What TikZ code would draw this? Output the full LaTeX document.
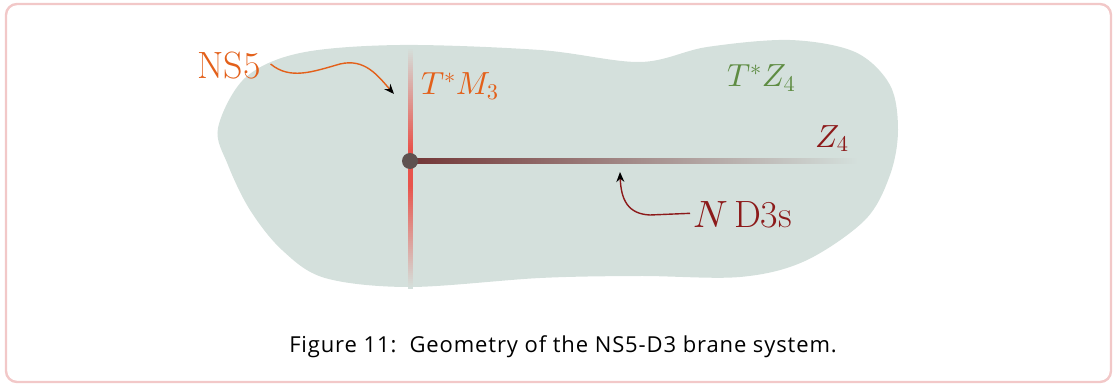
\documentclass[tikz,border=0pt]{standalone}
\DeclareFontShape{OML}{cmm}{m}{it}{<-> cmmi10}{}
\DeclareFontShape{OMS}{cmsy}{m}{n}{<-> cmsy10}{}
\DeclareFontShape{OT1}{cmr}{m}{n}{<-> cmr10}{}
\usepackage{fontspec}
\newfontfamily\capfont[LetterSpace=4]{Open Sans}
\usetikzlibrary{arrows.meta}
\definecolor{framepink}{HTML}{F2C8C8}
\definecolor{blob}{HTML}{D4E0DC}
\definecolor{nsorange}{HTML}{E3601A}
\definecolor{zgreen}{HTML}{5E8C42}
\definecolor{dred}{HTML}{8C1A1A}
\definecolor{brane}{HTML}{E8544C}
\definecolor{dthree}{HTML}{723636}
\definecolor{dotgray}{HTML}{5E5250}
\tikzset{
  lbl/.style={inner sep=0pt, outer sep=0pt},
  pointer/.style={line width=1.4pt, -{Stealth[black, length=10pt, width=8pt]}},
}
\begin{document}
\begin{tikzpicture}[x=1pt,y=-1pt]
\useasboundingbox (0,0) rectangle (1116,385);
% frame
\draw[framepink, line width=2.4pt, rounded corners=11pt] (6,4) rectangle (1111,382);
% blob
\fill[blob] plot[smooth cycle, tension=0.55] coordinates {
 (218,128) (245,78) (300,53) (400,45) (540,50) (640,62) (707,47) (790,40)
 (855,52) (890,85) (898,130) (890,175) (865,220) (805,261) (740,277)
 (640,276) (540,278) (410,287) (325,278) (282,250) (250,210) (228,165)};
% vertical brane (NS5), fading towards both ends
\foreach \i in {0,...,120}{
  \pgfmathsetmacro{\t}{\i/120}
  \pgfmathsetmacro{\p}{min(100,118*(1-abs(2*\t-1)))}
  \fill[brane!\p!blob] (408,{47+2*\i}) rectangle (412.5,{49.2+2*\i});
}
% horizontal brane (D3)
\shade[left color=dthree, right color=blob] (410,158.5) rectangle (858,163.5);
% intersection
\node[circle, fill=dotgray, minimum size=16pt, inner sep=0pt] (dot) at (410,161) {};
% labels
\node[lbl, anchor=base, text=nsorange, font=\fontsize{38}{40}\selectfont] (ns5) at (229,79) {NS5};
\node[lbl, anchor=base west, text=nsorange, font=\fontsize{32}{34}\selectfont] (tm3) at (421,95) {$T^*M_3$};
\node[lbl, anchor=base west, text=zgreen, font=\fontsize{32}{34}\selectfont] (tz4) at (727,87) {$T^*Z_4$};
\node[lbl, anchor=base west, text=dred, font=\fontsize{32}{34}\selectfont] (z4) at (815,147) {$Z_4$};
\node[lbl, anchor=base west, text=dred, font=\fontsize{38}{40}\selectfont] (nd3) at (693,227) {$N$\,D3s};
\coordinate (ns5tip) at (394,94);
\coordinate (d3tip) at (620,172);
% pointers
\draw[pointer, nsorange] (ns5.east) ++(10,-2) coordinate (ns5start)
  .. controls (290,80) and (312,72) .. (340,64)
  .. controls (365,58) and (378,76) .. (ns5tip);
\draw[pointer, dred] (nd3.west) ++(-3,-1) coordinate (nd3start)
  -- (650,215) .. controls (628,214) and (621,200) .. (d3tip);
% caption
\node[lbl, anchor=base, font=\capfont\fontsize{22}{24}\selectfont] (cap) at (563,352) {Figure 11:\ \ Geometry of the NS5-D3 brane system.};
\end{tikzpicture}
\end{document}
